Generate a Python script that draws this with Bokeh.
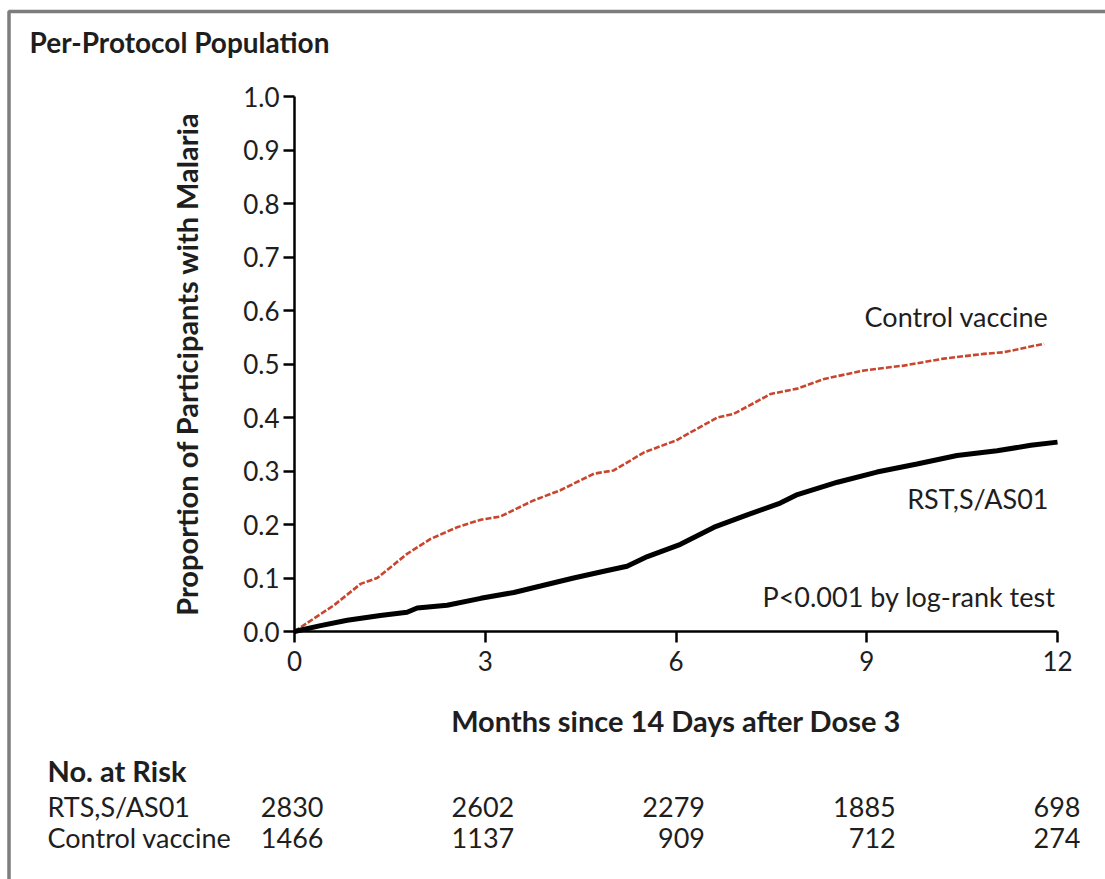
from bokeh.plotting import figure
from bokeh.models import Label, Range1d, NumeralTickFormatter, LinearAxis
from bokeh.embed import file_html
from bokeh.resources import INLINE

# Cumulative proportion with malaria, RTS,S/AS01 group
months_rts = [0, 0.41, 0.83, 1.35, 1.77, 1.93, 2.4, 2.93, 3.45, 3.87, 4.39, 4.92,
              5.23, 5.55, 6.07, 6.6, 7.12, 7.64, 7.91, 8.54, 9.16, 9.79, 10.42,
              11.05, 11.58, 12.0]
prop_rts = [0, 0.011, 0.021, 0.030, 0.036, 0.044, 0.049, 0.062, 0.073, 0.085, 0.100,
            0.114, 0.122, 0.140, 0.163, 0.195, 0.218, 0.240, 0.256, 0.279, 0.298,
            0.313, 0.329, 0.338, 0.348, 0.354]

# Cumulative proportion with malaria, control-vaccine group
months_ctl = [0, 0.3, 0.62, 1.04, 1.3, 1.77, 2.14, 2.56, 2.93, 3.24, 3.76, 4.18,
              4.71, 5.02, 5.5, 6.0, 6.65, 6.91, 7.49, 7.91, 8.33, 8.96, 9.58,
              10.21, 10.84, 11.16, 11.79]
prop_ctl = [0, 0.024, 0.049, 0.089, 0.100, 0.145, 0.173, 0.195, 0.209, 0.215, 0.245,
            0.264, 0.295, 0.301, 0.335, 0.357, 0.400, 0.407, 0.444, 0.454, 0.472,
            0.488, 0.497, 0.510, 0.519, 0.522, 0.538]

# Number at risk table
risk_months = [0, 3, 6, 9, 12]
risk_rts = [2830, 2602, 2279, 1885, 698]
risk_ctl = [1466, 1137, 909, 712, 274]

x_ticks = [0, 3, 6, 9, 12]
y_ticks = [0.0, 0.1, 0.2, 0.3, 0.4, 0.5, 0.6, 0.7, 0.8, 0.9, 1.0]

W, H = 1105, 879
# pixel positions of the axis box (months 0..12, proportion 0..1) on the canvas
AL, AR, AT, AB = 294, 1057, 96, 631
X0, X1, Y0, Y1 = 0, 12, 0, 1

def dx(px):
    """Canvas pixel column -> months."""
    return X0 + (px - AL) * (X1 - X0) / (AR - AL)

def dy(py):
    """Canvas pixel row -> proportion."""
    return Y0 + (AB - py) * (Y1 - Y0) / (AB - AT)

FONT = "Lato"
TXT = "#1e1e1e"
RED = "#c8462e"

# The frame fills the whole canvas so that the title and the risk table can be
# placed as ordinary labels; the axes sit at fixed data locations.
p = figure(width=W, height=H,
           x_range=Range1d(dx(0), dx(W)), y_range=Range1d(dy(H), dy(0)),
           x_axis_location=None, y_axis_location=None,
           output_backend="svg", toolbar_location=None, min_border=0)
p.outline_line_color = None
p.xgrid.visible = False
p.ygrid.visible = False
p.background_fill_color = "white"
p.border_fill_color = "white"

xaxis = LinearAxis(fixed_location=Y0, bounds=(X0, X1), ticker=x_ticks,
                   axis_label="Months since 14 Days after Dose 3")
yaxis = LinearAxis(fixed_location=X0, bounds=(Y0, Y1), ticker=y_ticks,
                   formatter=NumeralTickFormatter(format="0.0"),
                   axis_label="Proportion of Participants with Malaria")
for ax in (xaxis, yaxis):
    ax.axis_line_width = 2.5
    ax.axis_line_color = "black"
    ax.major_tick_line_width = 2.5
    ax.major_tick_line_color = "black"
    ax.major_tick_out = 11
    ax.major_tick_in = 0
    ax.minor_tick_line_color = None
    ax.major_label_text_font = FONT
    ax.major_label_text_font_size = "26px"
    ax.major_label_text_color = TXT
    ax.axis_label_text_font = FONT
    ax.axis_label_text_font_size = "29px"
    ax.axis_label_text_font_style = "bold"
    ax.axis_label_text_color = TXT
xaxis.major_label_standoff = 8
yaxis.major_label_standoff = 4
xaxis.axis_label_standoff = 29
yaxis.axis_label_standoff = 36
p.add_layout(xaxis, "below")
p.add_layout(yaxis, "left")

# Kaplan-Meier style curves
p.line(months_ctl, prop_ctl, line_color=RED, line_width=2.6, line_dash="6 2")
p.line(months_rts, prop_rts, line_color="black", line_width=5)

def add_label(x, y, text, align="left", bold=False, size="27px", x_offset=0):
    p.add_layout(Label(x=x, y=y, text=text,
                       text_align=align, text_baseline="middle",
                       text_font=FONT, text_font_size=size, text_color=TXT,
                       text_font_style="bold" if bold else "normal",
                       x_offset=x_offset))

# Curve annotations
add_label(dx(1048), dy(316), "Control vaccine", align="right")
add_label(dx(1048), dy(498), "RST,S/AS01", align="right")
add_label(dx(1055), dy(596), "P<0.001 by log-rank test", align="right")

# Panel title
add_label(dx(29), dy(41), "Per-Protocol Population", bold=True, size="28px")

# Number-at-risk table
add_label(dx(47), dy(770), "No. at Risk", bold=True, size="29px")
add_label(dx(47), dy(806), "RTS,S/AS01")
add_label(dx(47), dy(837), "Control vaccine")
for i, m in enumerate(risk_months):
    off = 23 if i == len(risk_months) - 1 else 29
    add_label(m, dy(806), str(risk_rts[i]), align="right", x_offset=off)
    add_label(m, dy(837), str(risk_ctl[i]), align="right", x_offset=off)

# Open grey frame along the left and top edges of the panel
p.line([dx(8.5), dx(8.5), dx(W + 10)], [dy(H + 10), dy(11), dy(11)],
       line_color="#7d7d7d", line_width=3.5)

open("out.html", "w").write(file_html(p, INLINE))
